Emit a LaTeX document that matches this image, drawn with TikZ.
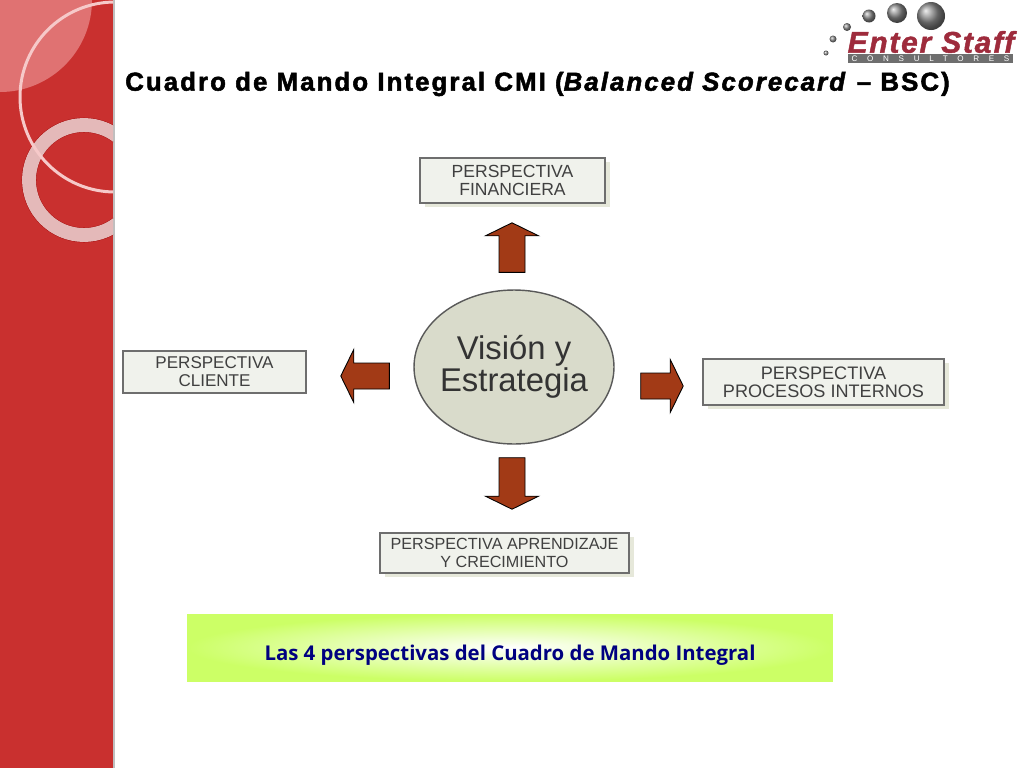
\documentclass[tikz,border=0pt]{standalone}
\usepackage{fontspec}
\setmainfont{Liberation Sans}
\newfontfamily\titlefont[FakeBold=2,LetterSpace=8]{Liberation Sans}
\newfontfamily\bannerfont{Open Sans}
\newfontfamily\logofont[FakeBold=1.5,LetterSpace=6]{Liberation Sans}
\newfontfamily\barfont[LetterSpace=120]{Liberation Sans}
\usetikzlibrary{calc,shadows,shapes.geometric}
\definecolor{bandred}{HTML}{C9302F}
\definecolor{bandpale}{HTML}{E07272}
\definecolor{bandring}{HTML}{E4B9B9}
\definecolor{bandline}{HTML}{F6C9C9}
\definecolor{arrowbrick}{HTML}{A23A16}
\definecolor{boxfill}{HTML}{F0F2EC}
\definecolor{boxedge}{HTML}{6E6E6E}
\definecolor{boxshadow}{HTML}{E6E8DA}
\definecolor{visionfill}{HTML}{D9DBCB}
\definecolor{bannerlime}{HTML}{CCFF66}
\definecolor{logored}{HTML}{9E2B3C}
\begin{document}
\begin{tikzpicture}[x=0.02cm, y=-0.02cm,
    perspective/.style={rectangle, draw=boxedge, line width=.9pt, fill=boxfill, text=black!75,
      font=\fontsize{#1}{10.2}\selectfont, align=center, inner sep=0pt},
    shadowed/.style={drop shadow={shadow xshift=.1cm, shadow yshift=-.08cm, fill=boxshadow, opacity=1}},
    blockarrow/.style={draw=black, line width=.5pt, fill=arrowbrick, to path={
      ($(\tikztotarget)!.26cm!(\tikztostart)$) coordinate (headbase)
      ($(\tikztostart)!.26cm!90:(\tikztotarget)$) -- ($(headbase)!.26cm!90:(\tikztotarget)$)
      -- ($(headbase)!.53cm!90:(\tikztotarget)$) -- (\tikztotarget)
      -- ($(headbase)!.53cm!-90:(\tikztotarget)$) -- ($(headbase)!.26cm!-90:(\tikztotarget)$)
      -- ($(\tikztostart)!.26cm!-90:(\tikztotarget)$) -- cycle}},
    logoball/.style={circle, inner sep=0pt, shading=ball, ball color=black!45}]
   \useasboundingbox (0,0) rectangle (1024,768);
   \fill[white] (0,0) rectangle (1024,768);
   \fill[black!25] (113,0) rectangle (115,768);
   \begin{scope}
     \clip (0,0) rectangle (113,768);
     \fill[bandred] (0,0) rectangle (113,768);
     \fill[bandpale] (0,0) circle (92);
     \draw[red!60!black, line width=.3pt] (84,180) circle (62) (84,180) circle (48);
     \draw[bandring, line width=7.9pt] (84,180) circle (55);
     \draw[bandline, line width=1.7pt] (115,97) circle (95);
   \end{scope}
   \node[logoball, minimum size=.10cm] (ball1) at (826,53) {};
   \node[logoball, minimum size=.14cm] (ball2) at (833,39) {};
   \node[logoball, minimum size=.16cm] (ball3) at (847,27) {};
   \node[logoball, minimum size=.26cm] (ball4) at (869,16) {};
   \node[logoball, minimum size=.40cm] (ball5) at (897,13) {};
   \node[logoball, minimum size=.56cm] (ball6) at (931,16) {};
   \node[text=logored, font=\logofont\fontsize{17}{17}\selectfont\bfseries\itshape, inner sep=0pt] (logoname) at (931,42) {Enter Staff};
   \node[fill=boxedge, text=white, minimum width=3.3cm, minimum height=.18cm, inner sep=0pt,
     font=\barfont\fontsize{4.6}{5}\selectfont] (logobar) at (930.5,58.5) {CONSULTORES};
   \node[font=\titlefont\fontsize{14.7}{16}\selectfont\bfseries, inner sep=0pt] (title) at (537.5,84) {Cuadro de Mando Integral CMI (\textit{Balanced Scorecard} – BSC)};
   \node[ellipse, draw=black!65, line width=.8pt, fill=visionfill, minimum width=4cm, minimum height=3.08cm, inner sep=-.4cm,
     text=black!80, align=center, font=\fontsize{18.7}{18}\selectfont] (vision) at (514,367) {Visión y\\Estrategia};
   \node[perspective=10, shadowed, minimum width=3.7cm, minimum height=.9cm] (fin) at (512.5,180.5) {PERSPECTIVA\\FINANCIERA};
   \node[perspective=9.7, minimum width=3.66cm, minimum height=.84cm] (cliente) at (214.5,372) {PERSPECTIVA\\CLIENTE};
   \node[perspective=10.3, shadowed, minimum width=4.82cm, minimum height=.92cm] (procesos) at (823.5,382) {PERSPECTIVA\\PROCESOS INTERNOS};
   \node[perspective=9.2, shadowed, minimum width=4.98cm, minimum height=.8cm] (aprendizaje) at (504.5,553) {PERSPECTIVA APRENDIZAJE\\Y CRECIMIENTO};
   \draw[blockarrow] ([shift={(-2,-17)}]vision.north) to ([shift={(-.5,19)}]fin.south);
   \draw[blockarrow] ([shift={(-24,9)}]vision.west) to ([shift={(34,4)}]cliente.east);
   \draw[blockarrow] ([shift={(26,19)}]vision.east) to ([shift={(-19,4)}]procesos.west);
   \draw[blockarrow] ([shift={(-2,13)}]vision.south) to ([shift={(7.5,-23)}]aprendizaje.north);
   \node[shade, inner color=white, outer color=bannerlime, minimum width=12.92cm, minimum height=1.34cm, inner sep=0pt,
     text=blue!50!black, font=\bannerfont\fontsize{11.6}{13}\selectfont\bfseries] (banner) at (510,647.5) {\raisebox{-.25cm}[0pt][0pt]{Las 4 perspectivas del Cuadro de Mando Integral}};
\end{tikzpicture}
\end{document}
